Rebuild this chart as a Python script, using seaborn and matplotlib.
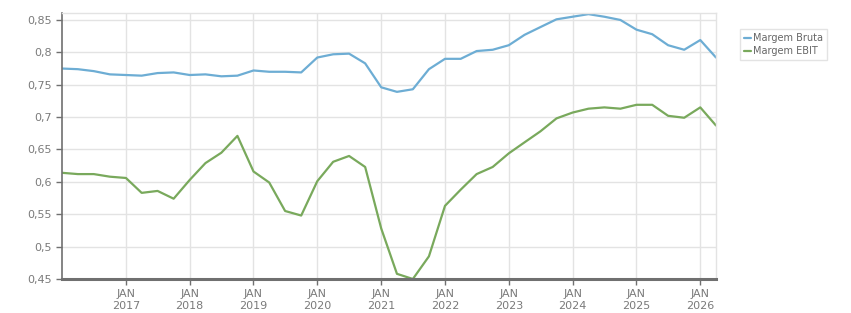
import pandas as pd
import matplotlib
matplotlib.use('Agg')
import matplotlib.pyplot as plt
import matplotlib.dates as mdates
import matplotlib.ticker as mticker
import seaborn as sns

# Quarterly margins, Jan 2016 -> Apr 2026
dates = pd.date_range('2016-01-01', periods=42, freq='QS')
margem_bruta = [0.775, 0.774, 0.771, 0.766, 0.765, 0.764, 0.768, 0.769, 0.765, 0.766,
                0.763, 0.764, 0.772, 0.770, 0.770, 0.769, 0.792, 0.797, 0.798, 0.783,
                0.746, 0.739, 0.743, 0.774, 0.790, 0.790, 0.802, 0.804, 0.811, 0.827,
                0.839, 0.851, 0.855, 0.859, 0.855, 0.850, 0.835, 0.828, 0.811, 0.804,
                0.819, 0.792]
margem_ebit = [0.614, 0.612, 0.612, 0.608, 0.606, 0.583, 0.586, 0.574, 0.603, 0.629,
               0.645, 0.671, 0.616, 0.599, 0.555, 0.548, 0.601, 0.631, 0.640, 0.623,
               0.528, 0.458, 0.450, 0.485, 0.563, 0.588, 0.612, 0.623, 0.644, 0.661,
               0.678, 0.698, 0.707, 0.713, 0.715, 0.713, 0.719, 0.719, 0.702, 0.699,
               0.715, 0.687]
series_names = ['Margem Bruta', 'Margem EBIT']
colors = ['#6dadd4', '#79a95c']
tick_years = list(range(2017, 2027))

df = pd.DataFrame({'data': list(dates) * 2,
                   'valor': margem_bruta + margem_ebit,
                   'serie': [series_names[0]] * len(dates) + [series_names[1]] * len(dates)})

sns.set_style('white')
plt.rcParams['font.family'] = ['DejaVu Sans']

fig = plt.figure(figsize=(8.51, 3.13), dpi=100)
ax = fig.add_axes([62 / 851, 1 - 279 / 313, (716 - 62) / 851, (279 - 13.3) / 313])

sns.lineplot(data=df, x='data', y='valor', hue='serie',
             palette=dict(zip(series_names, colors)), linewidth=1.6, ax=ax)

ax.set_xlim(dates[0], dates[-1])
ax.set_ylim(0.45, 0.8603)
ax.set_xlabel('')
ax.set_ylabel('')

ax.yaxis.set_major_locator(mticker.MultipleLocator(0.05))
ax.yaxis.set_major_formatter(mticker.FuncFormatter(
    lambda v, p: ('%.2f' % v).rstrip('0').replace('.', ',')))
ax.set_xticks([pd.Timestamp(f'{y}-01-01') for y in tick_years])
ax.xaxis.set_major_formatter(mdates.DateFormatter('JAN\n%Y'))

ax.grid(True, color='#e3e3e3', linewidth=1)
ax.set_axisbelow(True)
for s in ['top', 'right']:
    ax.spines[s].set_color('#e3e3e3')
    ax.spines[s].set_linewidth(1)
ax.spines['left'].set_color('#707070')
ax.spines['left'].set_linewidth(1.2)
ax.spines['bottom'].set_color('#707070')
ax.spines['bottom'].set_linewidth(2.2)

ax.tick_params(axis='both', colors='#707070', labelcolor='#7a7a7a', labelsize=8,
               length=4, width=1, direction='out', left=True, bottom=True)

leg = ax.legend(loc='upper left', bbox_to_anchor=(1.037, 0.94), frameon=True,
                fontsize=7, handlelength=0.7, handletextpad=0.25,
                borderpad=0.4, labelspacing=0.3, fancybox=False, borderaxespad=0)
leg.get_frame().set_edgecolor('#dddddd')
leg.get_frame().set_linewidth(1)
for t in leg.get_texts():
    t.set_color('#666666')

fig.savefig('out.png', dpi=100)
